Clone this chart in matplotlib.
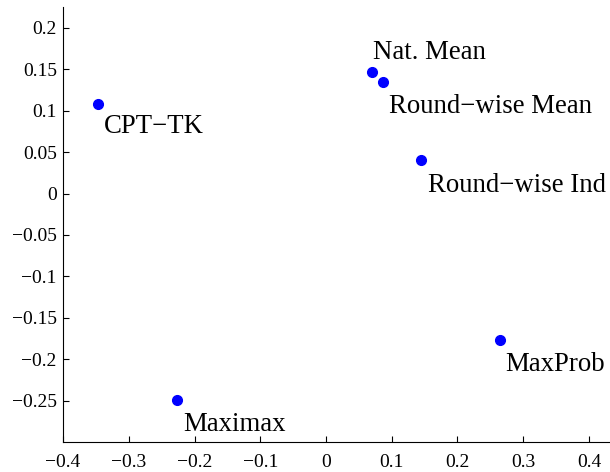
import matplotlib
matplotlib.use("Agg")
import matplotlib.pyplot as plt
import numpy as np

# values
names = ["CPT\u2212TK", "Nat. Mean", "Round\u2212wise Mean", "Round\u2212wise Ind", "MaxProb", "Maximax"]
xs = [-0.347, 0.070, 0.087, 0.145, 0.265, -0.227]
ys = [0.108, 0.147, 0.135, 0.040, -0.177, -0.249]
# label offsets in points (Nat. Mean sits above its dot)
offsets = [(4, -20.5), (1, 9.5), (4, -22.5), (5, -22.5), (3.5, -22.5), (5, -22.5)]

xticks = np.round(np.arange(-0.4, 0.41, 0.1), 2)
yticks = np.round(np.arange(-0.25, 0.21, 0.05), 2)

def fmt(v):
    if abs(v) < 1e-9:
        return "0"
    s = ("%g" % v)
    return s.replace("-", "\u2212")

plt.rcParams["font.family"] = ["Liberation Serif", "DejaVu Serif"]

fig = plt.figure(figsize=(6.1, 4.72), dpi=100)
ax = fig.add_axes([0.1033, 0.0636, 0.8967, 0.921])

ax.plot(xs, ys, "o", color="#0000ff", markersize=7, linestyle="none", clip_on=False)
for n, x, y, off in zip(names, xs, ys, offsets):
    ax.annotate(n, (x, y), xytext=off, textcoords="offset points",
                ha="left", va="baseline", fontsize=19.3)

ax.set_xlim(-0.4, 0.432)
ax.set_ylim(-0.3, 0.225)
ax.set_xticks(xticks)
ax.set_xticklabels([fmt(v) for v in xticks])
ax.set_yticks(yticks)
ax.set_yticklabels([fmt(v) for v in yticks])
ax.tick_params(direction="in", length=4, labelsize=14, width=0.8)
ax.tick_params(axis="y", pad=4.5)
ax.tick_params(axis="x", pad=8.5)
ax.spines["top"].set_visible(False)
ax.spines["right"].set_visible(False)

fig.savefig("out.png", dpi=100)
